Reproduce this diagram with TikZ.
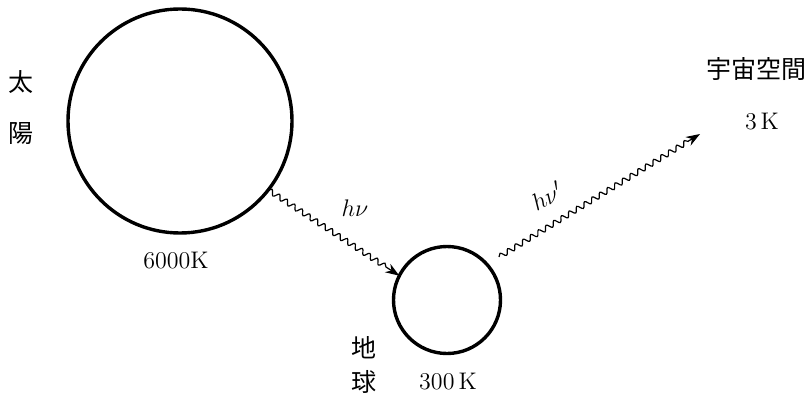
\documentclass[tikz,border=0pt]{standalone}
\usepackage{fontspec}
\newfontfamily\jp{Noto Sans CJK JP}
\usepackage{tikz}
\usetikzlibrary{positioning, arrows.meta, calc, decorations.pathmorphing}

\begin{document}
\begin{tikzpicture}[
    x=0.5pt, y=-0.5pt,
    body/.style={circle, draw, line width=1.7pt, inner sep=0pt, outer sep=0pt},
    photon/.style={line width=0.6pt, -{Stealth[length=7pt, width=5pt]},
        decorate, decoration={snake, segment length=4.5pt, amplitude=1.3pt, post length=6pt}},
    jplabel/.style={font=\jp\fontsize{12.5}{14}\selectfont},
    temp/.style={font=\fontsize{12}{14}\selectfont}
]
\useasboundingbox (0,0) rectangle (812,395);

% 天体
\node[body, minimum size=112pt] (taiyou) at (180,121) {};
\node[body, minimum size=53.5pt] (chikyuu) at (447,300) {};

% 名前と温度
\node[jplabel] (tai) at (21,82) {太};
\node[jplabel] (you) at (21,134) {陽};
\node[temp] (t6000) at (176,261) {6000K};
\node[jplabel] (chi) at (364,348) {地};
\node[jplabel] (kyuu) at (364,382) {球};
\node[temp] (t300) at (448,382) {300\,K};
\node[jplabel] (uchuukuukan) at (756,69) {宇宙空間};
\node[temp] (t3) at (762,122) {3\,K};

% 放射
\coordinate (hassha) at (499,257);
\coordinate (uchuu) at (700,134);
\draw[photon] (taiyou.-38) -- (chikyuu.153);
\draw[photon] (hassha) -- (uchuu);

\node[font=\fontsize{12.5}{14}\selectfont] (hv) at (355,208) {$h\nu$};
\node[font=\fontsize{12.5}{14}\selectfont, rotate=28] (hvp) at (547,196) {$h\nu'$};

\end{tikzpicture}
\end{document}
